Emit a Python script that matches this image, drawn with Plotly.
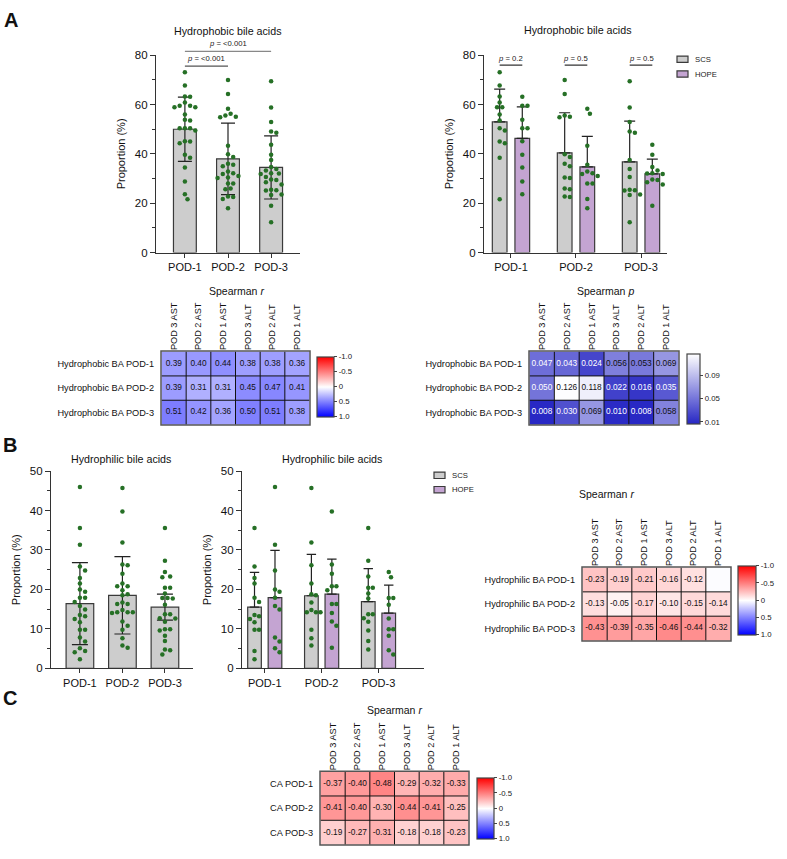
import plotly.graph_objects as go

W, H = 787, 859
FONT = "Liberation Sans, Arial, sans-serif"

# ---------------- data ----------------
pods = ["POD-1", "POD-2", "POD-3"]
groups = ["SCS", "HOPE"]
lab_cols = ["POD 3 AST", "POD 2 AST", "POD 1 AST", "POD 3 ALT", "POD 2 ALT", "POD 1 ALT"]
hphob_rows = ["Hydrophobic BA POD-1", "Hydrophobic BA POD-2", "Hydrophobic BA POD-3"]
hphil_rows = ["Hydrophilic BA POD-1", "Hydrophilic BA POD-2", "Hydrophilic BA POD-3"]
ca_rows = ["CA POD-1", "CA POD-2", "CA POD-3"]

# Hydrophobic bile acids (%), individual patients
hphob_scs_pts = [
    [73.1, 67.7, 63.3, 60.9, 58.9, 58.9, 56.0, 53.6, 50.4, 49.5, 45.0, 44.3, 38.4, 21.6],
    [70.0, 64.3, 55.6, 55.1, 54.9, 39.9, 38.7, 36.0, 35.0, 30.4, 30.2, 26.0, 25.7, 22.7, 22.5],
    [69.5, 58.8, 52.9, 49.1, 48.6, 37.5, 33.9, 30.6, 25.5, 25.3, 25.2, 23.5, 23.3, 12.3],
]
hphob_hope_pts = [
    [63.2, 59.5, 59.5, 53.9, 50.4, 50.4, 45.1, 39.7, 34.5, 28.8, 23.6],
    [58.3, 56.3, 43.3, 35.6, 32.9, 32.2, 31.8, 31.0, 28.0, 28.0, 21.7, 18.0],
    [43.7, 39.7, 34.7, 33.3, 32.2, 32.0, 31.8, 29.6, 29.4, 28.5, 27.6, 19.0],
]
hphob_all_mean = [50.0, 38.0, 34.5]
hphob_all_sd = [13.0, 14.5, 12.8]
hphob_scs_mean = [53.0, 40.4, 36.8]
hphob_scs_sd = [13.3, 16.3, 16.5]
hphob_hope_mean = [46.3, 34.7, 31.9]
hphob_hope_sd = [12.8, 12.4, 6.0]
hphob_pair_p = ["<0.001", "<0.001"]      # POD-1 vs POD-2, POD-1 vs POD-3
hphob_group_p = ["0.2", "0.5", "0.5"]

# Hydrophilic bile acids (%), individual patients
hphil_scs_pts = [
    [35.6, 25.8, 22.9, 21.5, 17.9, 16.8, 13.5, 13.2, 12.5, 11.7, 9.8, 9.8, 4.4, 2.3],
    [45.7, 31.9, 26.1, 21.5, 18.5, 18.8, 16.7, 14.8, 14.2, 14.2, 14.2, 9.8, 7.6, 5.8],
    [35.6, 27.3, 23.3, 20.4, 20.4, 19.0, 17.7, 13.7, 13.7, 12.7, 11.8, 9.6, 6.9, 4.75],
]
hphil_hope_pts = [
    [46.0, 31.3, 24.8, 20.0, 19.4, 17.9, 15.8, 14.9, 7.8, 6.8, 5.1, 4.1],
    [39.75, 26.3, 24.0, 20.8, 20.8, 19.8, 16.3, 16.3, 14.0, 11.9, 10.8, 5.2],
    [24.4, 23.1, 17.8, 17.8, 16.1, 12.6, 9.9, 9.9, 8.25, 4.6, 3.5],
]
hphil_all_mean = [16.4, 18.5, 15.5]
hphil_all_sd = [10.4, 9.8, 3.3]
hphil_scs_mean = [15.5, 18.4, 16.9]
hphil_scs_sd = [8.8, 10.5, 8.4]
hphil_hope_mean = [17.9, 18.8, 14.0]
hphil_hope_sd = [12.0, 8.9, 7.1]

# Spearman correlations with liver enzymes
hphob_r = [
    [0.39, 0.40, 0.44, 0.38, 0.38, 0.36],
    [0.39, 0.31, 0.31, 0.45, 0.47, 0.41],
    [0.51, 0.42, 0.36, 0.50, 0.51, 0.38],
]
hphob_p = [
    [0.047, 0.043, 0.024, 0.056, 0.053, 0.069],
    [0.050, 0.126, 0.118, 0.022, 0.016, 0.035],
    [0.008, 0.030, 0.069, 0.010, 0.008, 0.058],
]
hphil_r = [
    [-0.23, -0.19, -0.21, -0.16, -0.12, 0.01],
    [-0.13, -0.05, -0.17, -0.10, -0.15, -0.14],
    [-0.43, -0.39, -0.35, -0.46, -0.44, -0.32],
]
ca_r = [
    [-0.37, -0.40, -0.48, -0.29, -0.32, -0.33],
    [-0.41, -0.40, -0.30, -0.44, -0.41, -0.25],
    [-0.19, -0.27, -0.31, -0.18, -0.18, -0.23],
]
r_ticks = [-1.0, -0.5, 0.0, 0.5, 1.0]
p_ticks = [0.01, 0.05, 0.09]

# ---------------- styles ----------------
GRAY = "#cdcdcd"
PURPLE = "#c4a4d2"
EDGE = "#3a3a3a"
DOT = "#267026"
AX = "#333333"


def px2x(p):
    return p / W


def px2y(p):
    return 1 - p / H


def dom_x(a, b):
    return [a / W, b / W]


def dom_y(a, b):
    return [1 - b / H, 1 - a / H]


def swarm(vals, center, px_cat, px_unit, d=5.2):
    placed = []
    out = [0.0] * len(vals)
    order = sorted(range(len(vals)), key=lambda i: -vals[i])
    cands = [0.0]
    for m in range(1, 16):
        cands += [m * d / 2, -m * d / 2]
    for i in order:
        yp = vals[i] * px_unit
        chosen = cands[-1]
        for c in cands:
            if all((c - a) ** 2 + (yp - b) ** 2 >= d * d for a, b in placed):
                chosen = c
                break
        placed.append((chosen, yp))
        out[i] = center + chosen / px_cat
    return out


fig = go.Figure()
annotations = []
shapes = []


def axname(n):
    return ("x", "y") if n == 1 else (f"x{n}", f"y{n}")


def bar_axes(n, xd, yd, xr, yr, dtick, minor):
    xk = "xaxis" if n == 1 else f"xaxis{n}"
    yk = "yaxis" if n == 1 else f"yaxis{n}"
    xa, ya = axname(n)
    fig.update_layout(**{
        xk: dict(domain=dom_x(*xd), anchor=ya, range=xr, tickvals=[0, 1, 2], ticktext=pods,
                 showline=True, linecolor=AX, linewidth=1.2, ticks="outside", ticklen=4,
                 tickcolor=AX, tickfont=dict(size=11, color="#111"), showgrid=False, zeroline=False),
        yk: dict(domain=dom_y(*yd), anchor=xa, range=yr, dtick=dtick, showline=True, linecolor=AX,
                 linewidth=1.2, ticks="outside", ticklen=5, tickcolor=AX,
                 minor=dict(dtick=minor, ticks="outside", ticklen=3, tickcolor=AX),
                 tickfont=dict(size=11.5, color="#111"), showgrid=False, zeroline=False,
                 title=dict(text="Proportion (%)", font=dict(size=11, color="#111"), standoff=6)),
    })


def pooled_chart(n, means, sds, scs_pts, hope_pts, px_cat, px_unit, width, cap):
    xa, ya = axname(n)
    fig.add_trace(go.Bar(x=[0, 1, 2], y=means, width=width, xaxis=xa, yaxis=ya,
                         marker=dict(color=GRAY, line=dict(color=EDGE, width=1.2)),
                         error_y=dict(type="data", array=sds, color="#222", thickness=1.2, width=cap),
                         showlegend=False))
    xs, ys = [], []
    for i in range(3):
        vals = scs_pts[i] + hope_pts[i]
        xs += swarm(vals, i, px_cat, px_unit)
        ys += vals
    fig.add_trace(go.Scatter(x=xs, y=ys, xaxis=xa, yaxis=ya, mode="markers",
                             marker=dict(color=DOT, size=4.5), showlegend=False))


def grouped_chart(n, means_list, sds_list, pts_list, px_cat, px_unit, width, off, cap):
    xa, ya = axname(n)
    cols = [GRAY, PURPLE]
    for g, name in enumerate(groups):
        o = -off if g == 0 else off
        fig.add_trace(go.Bar(x=[i + o for i in range(3)], y=means_list[g], width=width, xaxis=xa, yaxis=ya,
                             name=name,
                             marker=dict(color=cols[g], line=dict(color=EDGE, width=1.2)),
                             error_y=dict(type="data", symmetric=False, array=sds_list[g],
                                          arrayminus=[0, 0, 0], color="#222", thickness=1.2, width=cap),
                             showlegend=False))
    xs, ys = [], []
    for g in range(2):
        o = -off if g == 0 else off
        for i in range(3):
            vals = pts_list[g][i]
            xs += swarm(vals, i + o, px_cat, px_unit)
            ys += vals
    fig.add_trace(go.Scatter(x=xs, y=ys, xaxis=xa, yaxis=ya, mode="markers",
                             marker=dict(color=DOT, size=4.5), showlegend=False))


def legend_box(x, y, spacing):
    # swatch + label legend for the SCS / HOPE groups
    for g, (name, col) in enumerate(zip(groups, [GRAY, PURPLE])):
        yc = y + g * spacing
        shapes.append(dict(type="rect", xref="paper", yref="paper", x0=px2x(x), x1=px2x(x + 11),
                           y0=px2y(yc + 3.2), y1=px2y(yc - 3.2), fillcolor=col,
                           line=dict(color=EDGE, width=1.2)))
        annotations.append(dict(xref="paper", yref="paper", x=px2x(x + 16), y=px2y(yc), text=name,
                                showarrow=False, xanchor="left", yanchor="middle",
                                font=dict(size=7.7, color="#222")))


# ---- A left ----
A1x = [-0.67, 2.67]
A1_dx, A1_dy = (156, 300), (50, 250)
bar_axes(1, A1_dx, A1_dy, A1x, [0, 80], 20, 10)
pooled_chart(1, hphob_all_mean, hphob_all_sd, hphob_scs_pts, hphob_hope_pts, 43, 2.5, 0.53, 7)


def cat_px(c, r, d):
    return d[0] + (c - r[0]) / (r[1] - r[0]) * (d[1] - d[0])


def val_px(v, r, d):
    return d[1] - (v - r[0]) / (r[1] - r[0]) * (d[1] - d[0])


# significance brackets (POD-1 vs POD-2 lower, POD-1 vs POD-3 upper)
for (c1, c2), ptxt, yline, ytxt, lc in [((0, 1), hphob_pair_p[0], 75.6, 78.9, "#555"),
                                         ((0, 2), hphob_pair_p[1], 81.6, 84.9, "#888")]:
    x0 = cat_px(c1, A1x, A1_dx)
    x1 = cat_px(c2, A1x, A1_dx)
    yl = val_px(yline, [0, 80], A1_dy)
    yt = val_px(ytxt, [0, 80], A1_dy)
    shapes.append(dict(type="line", xref="paper", yref="paper", x0=px2x(x0), x1=px2x(x1),
                       y0=px2y(yl), y1=px2y(yl), line=dict(color=lc, width=1.3)))
    annotations.append(dict(xref="paper", yref="paper", x=px2x((x0 + x1) / 2), y=px2y(yt),
                            text=f"<i>p</i> = {ptxt}", showarrow=False, xanchor="center",
                            font=dict(size=7.7, color="#222"), yanchor="middle"))

# ---- A right ----
A2x = [-0.415, 2.4]
bar_axes(2, (484, 667), (50, 250), A2x, [0, 80], 20, 10)
grouped_chart(2, [hphob_scs_mean, hphob_hope_mean], [hphob_scs_sd, hphob_hope_sd],
              [hphob_scs_pts, hphob_hope_pts], 65, 2.5, 0.226, 0.174, 5.5)
for i, ptxt in enumerate(hphob_group_p):
    shapes.append(dict(type="line", xref="x2", yref="y2", x0=i - 0.174, x1=i + 0.174, y0=76, y1=76,
                       line=dict(color="#333", width=1.2)))
    annotations.append(dict(xref="x2", yref="y2", x=i, y=78.6, text=f"<i>p</i> = {ptxt}", showarrow=False,
                            xanchor="center", font=dict(size=7.7, color="#222"), yanchor="middle"))
legend_box(677, 54, 15)

# ---- B left ----
bar_axes(5, (51, 193), (471.7, 671.7), [-0.68, 2.66], [0, 50], 10, 5)
pooled_chart(5, hphil_all_mean, hphil_all_sd, hphil_scs_pts, hphil_hope_pts, 42.5, 4.0, 0.65, 8)

# ---- B right ----
bar_axes(6, (242, 424), (471.7, 671.7), [-0.4, 2.8], [0, 50], 10, 5)
grouped_chart(6, [hphil_scs_mean, hphil_hope_mean], [hphil_scs_sd, hphil_hope_sd],
              [hphil_scs_pts, hphil_hope_pts], 65, 4.0, 0.24, 0.18, 4.7)
legend_box(434, 476, 14.5)


# ---- heatmaps ----
RB_SCALE = [[0.0, "rgb(0,0,255)"], [0.5, "rgb(255,255,255)"], [1.0, "rgb(255,0,0)"]]
P_SCALE = [[0.0, "rgb(38,38,196)"], [1.0, "rgb(255,255,255)"]]


def heatmap(n, xd, yd, rows, z, kind, cb):
    xa, ya = axname(n)
    if kind == "r":
        zplot = [[-v for v in row] for row in z]
        texts = [["" if abs(v) < 0.02 else f"{v:.2f}" for v in row] for row in z]
        tcols = [["#111"] * len(row) for row in z]
        colorbar = dict(tickvals=[-t for t in r_ticks], ticktext=[f"{t:.1f}" if t != 0 else "0" for t in r_ticks])
        trace = dict(z=zplot, colorscale=RB_SCALE, zmin=-1, zmax=1)
    else:
        texts = [[f"{v:.3f}" for v in row] for row in z]
        tcols = [["#ffffff" if v < 0.052 else "#111" for v in row] for row in z]
        colorbar = dict(tickvals=p_ticks, ticktext=[f"{t:.2f}" for t in p_ticks])
        trace = dict(z=z, colorscale=P_SCALE, zmin=0.007, zmax=0.127)
    colorbar.update(x=cb[0] / W, xanchor="left", y=px2y((cb[2] + cb[3]) / 2), yanchor="middle",
                    lenmode="pixels", len=cb[3] - cb[2], thickness=cb[1] - cb[0], xpad=0, ypad=0,
                    outlinewidth=1.2, outlinecolor="#444", ticks="outside", ticklen=3, tickcolor="#444",
                    tickfont=dict(size=7.8, color="#222"))
    fig.add_trace(go.Heatmap(x=lab_cols, y=rows, xaxis=xa, yaxis=ya, colorbar=colorbar, showscale=True,
                             xgap=0, ygap=0, **trace))
    fig.add_trace(go.Scatter(x=[c for _ in rows for c in lab_cols], y=[r for r in rows for _ in lab_cols],
                             xaxis=xa, yaxis=ya, mode="text",
                             text=[t for row in texts for t in row],
                             textfont=dict(size=8.3, color=[c for row in tcols for c in row]),
                             showlegend=False))
    fig.update_layout(**{
        f"xaxis{n}": dict(domain=dom_x(*xd), anchor=ya, side="top", tickangle=-90, type="category",
                          categoryorder="array", categoryarray=lab_cols, showgrid=False, zeroline=False,
                          showline=False, ticks="", tickfont=dict(size=9.2, color="#111")),
        f"yaxis{n}": dict(domain=dom_y(*yd), anchor=xa, type="category", categoryorder="array",
                          categoryarray=rows, autorange="reversed", showgrid=False, zeroline=False,
                          showline=False, ticks="", ticklabelstandoff=6, tickfont=dict(size=9.2, color="#111")),
    })
    for k in range(1, len(lab_cols)):
        shapes.append(dict(type="line", xref=xa, yref=ya, x0=k - 0.5, x1=k - 0.5, y0=-0.5, y1=len(rows) - 0.5,
                           line=dict(color="#111", width=1)))
    for k in range(1, len(rows)):
        shapes.append(dict(type="line", xref=xa, yref=ya, x0=-0.5, x1=len(lab_cols) - 0.5, y0=k - 0.5, y1=k - 0.5,
                           line=dict(color="#111", width=1)))
    shapes.append(dict(type="rect", xref="paper", yref="paper", x0=px2x(xd[0]), x1=px2x(xd[1]),
                       y0=px2y(yd[1]), y1=px2y(yd[0]), line=dict(color="#555", width=1.5)))


heatmap(3, (161, 310), (350, 425), hphob_rows, hphob_r, "r", (317, 334, 356, 416))
heatmap(4, (529, 679), (350, 425), hphob_rows, hphob_p, "p", (687, 700, 353, 423))
heatmap(7, (582, 731), (569, 644), hphil_rows, hphil_r, "r", (738, 756, 568, 637))
heatmap(8, (320, 469), (776, 851), ca_rows, ca_r, "r", (477, 494, 783, 844))


# ---- titles / labels ----
def label(x, y, text, size, **kw):
    annotations.append(dict(xref="paper", yref="paper", x=px2x(x), y=px2y(y), text=text, showarrow=False,
                            xanchor=kw.get("xanchor", "center"), yanchor="middle",
                            font=dict(size=size, color="#111", family=FONT)))


label(228, 25, "Hydrophobic bile acids", 10.7)
label(578, 24, "Hydrophobic bile acids", 10.7)
label(121, 459, "Hydrophilic bile acids", 10.7)
label(332, 459, "Hydrophilic bile acids", 10.7)
label(236, 289, "Spearman <i>r</i>", 10.5)
label(605, 289, "Spearman <i>p</i>", 10.5)
label(606, 495, "Spearman <i>r</i>", 10.5)
label(395, 714, "Spearman <i>r</i>", 10.5)
label(2, 14, "<b>A</b>", 20, xanchor="left")
label(1, 445, "<b>B</b>", 20, xanchor="left")
label(1, 702, "<b>C</b>", 20, xanchor="left")

fig.update_layout(
    width=W, height=H, margin=dict(l=0, r=0, t=0, b=0),
    paper_bgcolor="white", plot_bgcolor="white",
    font=dict(family=FONT, color="#111"),
    hovermode=False,
    barmode="overlay",
    showlegend=False,
    annotations=annotations, shapes=shapes,
)

fig.write_html("out.html")
